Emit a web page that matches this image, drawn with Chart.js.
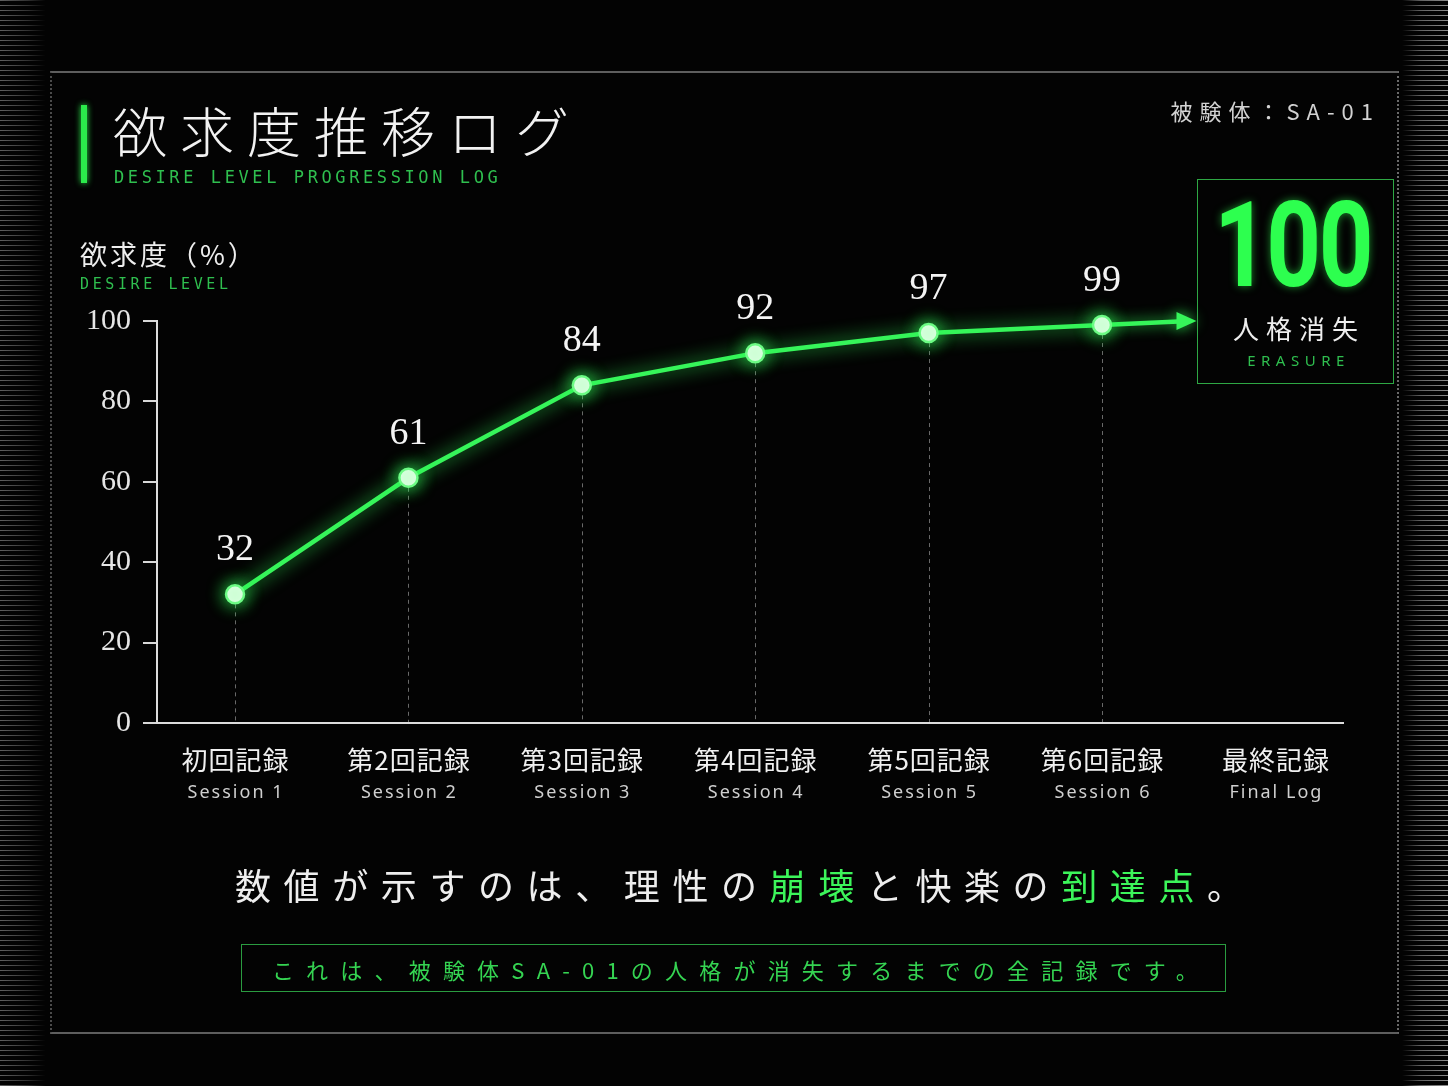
<!DOCTYPE html>
<html><head><meta charset="utf-8">
<script src="https://cdn.jsdelivr.net/npm/chart.js@4.4.1/dist/chart.umd.min.js"></script>
<style>
html,body{margin:0;padding:0;background:#000;}
#wrap{position:relative;width:1448px;height:1086px;background:#030303;overflow:hidden;}
#c{position:absolute;left:0;top:0;}
.t{position:absolute;white-space:nowrap;font-family:"Noto Sans CJK JP","Noto Sans",sans-serif;}
.mono{font-family:"DejaVu Sans Mono",monospace;}
.frame{position:absolute;left:50px;top:71px;width:1345px;height:959px;border-top:2px solid #5e5e5e;border-bottom:2px solid #5e5e5e;border-left:2px dotted #4a4a4a;border-right:2px dotted #6a6a6a;}
.scanL{position:absolute;left:0;top:0;width:46px;height:1086px;background:repeating-linear-gradient(to bottom,rgba(210,210,210,0.45) 0 1px,transparent 1px 5px);-webkit-mask-image:linear-gradient(to right,#000 0%,rgba(0,0,0,0.5) 60%,transparent 100%);}
.scanR{position:absolute;left:1402px;top:0;width:46px;height:1086px;background:repeating-linear-gradient(to bottom,rgba(230,230,230,0.6) 0 1px,transparent 1px 5px);-webkit-mask-image:linear-gradient(to left,#000 0%,rgba(0,0,0,0.7) 60%,transparent 100%);}
.g{color:#3cf55a;}
</style></head>
<body>
<div id="wrap">
<div class="scanL"></div>
<div class="scanR"></div>
<div class="frame"></div>
<canvas id="c" width="1448" height="1086"></canvas>

<div style="position:absolute;left:81px;top:105px;width:6px;height:78px;background:#2bea4b;box-shadow:0 0 6px #2bea4b;"></div>
<div class="t" style="left:113px;top:98px;height:64px;line-height:64px;font-size:54px;font-weight:300;letter-spacing:13px;color:#f2f2f2;">欲求度推移ログ</div>
<div class="t mono" style="left:114px;top:166px;height:22px;line-height:22px;font-size:17px;letter-spacing:3.6px;color:#2fbf4f;">DESIRE LEVEL PROGRESSION LOG</div>

<div class="t" style="right:68px;top:96px;height:28px;line-height:28px;font-size:22px;letter-spacing:7px;color:#d2d2d2;">被験体：SA-01</div>

<div class="t" style="left:80px;top:237px;height:34px;line-height:34px;font-size:27px;letter-spacing:3px;color:#eeeeee;">欲求度（%）</div>
<div class="t mono" style="left:80px;top:274px;height:20px;line-height:20px;font-size:15px;letter-spacing:3.6px;color:#2fbf4f;">DESIRE LEVEL</div>

<div style="position:absolute;left:1197px;top:179px;width:195px;height:203px;border:1.5px solid #2ea844;"></div>
<div class="t" style="left:1194px;width:197px;top:186px;height:120px;line-height:120px;text-align:center;font-family:Roboto,'Noto Sans',sans-serif;font-weight:700;font-size:118px;letter-spacing:-3px;color:#2dff4f;text-shadow:0 0 10px rgba(45,255,79,0.55);transform:scaleX(0.81);">100</div>
<div class="t" style="left:1197px;width:204px;top:311px;height:34px;line-height:34px;text-align:center;font-size:26px;letter-spacing:7px;color:#eeeeee;">人格消失</div>
<div class="t" style="left:1197px;width:203px;top:350px;height:20px;line-height:20px;text-align:center;font-family:'Noto Sans',sans-serif;font-size:15px;letter-spacing:5.5px;color:#2fbf4f;">ERASURE</div>

<div class="t" style="left:235px;top:862px;height:44px;line-height:44px;font-size:36px;font-weight:400;letter-spacing:12.6px;color:#eeeeee;">数値が示すのは、理性の<span class="g">崩壊</span>と快楽の<span class="g">到達点</span>。</div>

<div style="position:absolute;left:241px;top:944px;width:983px;height:46px;border:1.5px solid #2a9c40;"></div>
<div class="t" style="left:241px;width:1000px;top:953px;height:32px;line-height:32px;text-align:center;font-size:22px;letter-spacing:12.2px;color:#35d452;">これは、被験体SA-01の人格が消失するまでの全記録です。</div>
</div>

<script>
// ---- data ----
const sessionLabelsJP = ["初回記録","第2回記録","第3回記録","第4回記録","第5回記録","第6回記録","最終記録"];
const sessionLabelsEN = ["Session 1","Session 2","Session 3","Session 4","Session 5","Session 6","Final Log"];
const desireValues = [32, 61, 84, 92, 97, 99];
const finalValue = 100;
const yTicks = [0, 20, 40, 60, 80, 100];

const GREEN = '#36f55a';

const glowPlugin = {
  id: 'glow',
  beforeDatasetDraw(chart) {
    const ctx = chart.ctx;
    ctx.save();
    ctx.shadowColor = 'rgba(50,255,90,0.95)';
    ctx.shadowBlur = 18;
  },
  afterDatasetDraw(chart) { chart.ctx.restore(); }
};

const decoPlugin = {
  id: 'deco',
  beforeDatasetsDraw(chart) {
    const ctx = chart.ctx;
    const meta = chart.getDatasetMeta(0);
    const xs = chart.scales.x, ys = chart.scales.y;
    const bottom = chart.chartArea.bottom;
    // drop lines
    ctx.save();
    ctx.strokeStyle = 'rgba(190,190,190,0.55)';
    ctx.lineWidth = 1;
    ctx.setLineDash([4, 4]);
    meta.data.forEach(p => {
      ctx.beginPath();
      ctx.moveTo(Math.round(p.x) + 0.5, p.y + 10);
      ctx.lineTo(Math.round(p.x) + 0.5, bottom - 1);
      ctx.stroke();
    });
    ctx.restore();
    // arrow toward final log
    const last = meta.data[meta.data.length - 1];
    const tipX = xs.getPixelForValue(desireValues.length - 1 + 0.545);
    const tipY = ys.getPixelForValue(finalValue);
    ctx.save();
    ctx.shadowColor = 'rgba(50,255,90,0.9)';
    ctx.shadowBlur = 14;
    ctx.strokeStyle = GREEN;
    ctx.fillStyle = GREEN;
    ctx.lineWidth = 4.5;
    ctx.beginPath();
    ctx.moveTo(last.x, last.y);
    ctx.lineTo(tipX - 18, tipY + (last.y - tipY) * 0.1);
    ctx.stroke();
    ctx.beginPath();
    ctx.moveTo(tipX - 20, tipY - 9);
    ctx.lineTo(tipX, tipY);
    ctx.lineTo(tipX - 20, tipY + 9);
    ctx.closePath();
    ctx.fill();
    ctx.restore();
  },
  afterDraw(chart) {
    const ctx = chart.ctx;
    const meta = chart.getDatasetMeta(0);
    const xs = chart.scales.x;
    ctx.save();
    // value labels
    ctx.textAlign = 'center';
    ctx.textBaseline = 'middle';
    ctx.fillStyle = '#f4f4f4';
    ctx.font = '38px "Liberation Serif", "DejaVu Serif", serif';
    meta.data.forEach((p, i) => {
      ctx.fillText(String(desireValues[i]), p.x, p.y - 44);
    });
    // category labels
    sessionLabelsJP.forEach((lab, i) => {
      const x = xs.getPixelForValue(i);
      ctx.fillStyle = '#f0f0f0';
      ctx.font = '26px "Noto Sans CJK JP", sans-serif';
      try { ctx.letterSpacing = '1px'; } catch (e) {}
      ctx.fillText(lab, x + 0.5, 760);
      ctx.fillStyle = '#cfcfcf';
      ctx.font = '18px "Noto Sans", sans-serif';
      try { ctx.letterSpacing = '2px'; } catch (e) {}
      ctx.fillText(sessionLabelsEN[i], x + 1, 793);
      try { ctx.letterSpacing = '0px'; } catch (e) {}
    });
    ctx.restore();
  }
};

new Chart(document.getElementById('c'), {
  type: 'line',
  data: {
    datasets: [{
      data: desireValues.map((v, i) => ({ x: i, y: v })),
      borderColor: GREEN,
      borderWidth: 4.5,
      tension: 0,
      pointRadius: 9,
      pointBackgroundColor: '#effff0',
      pointBorderColor: '#6cfb84',
      pointBorderWidth: 2.5,
      fill: false,
      clip: false
    }]
  },
  options: {
    responsive: false,
    animation: false,
    events: [],
    layout: { padding: { left: 0, right: 105, top: 321, bottom: 263 } },
    plugins: { legend: { display: false }, tooltip: { enabled: false } },
    scales: {
      x: {
        type: 'linear',
        min: -0.45,
        max: 6.39,
        afterBuildTicks: s => { s.ticks = sessionLabelsJP.map((_, i) => ({ value: i })); },
        afterFit: s => { s.height = 100; },
        ticks: { display: false },
        grid: { display: true, drawOnChartArea: false, drawTicks: false, color: 'rgba(0,0,0,0)' },
        border: { display: true, color: '#dcdcdc', width: 2 }
      },
      y: {
        min: 0,
        max: 100,
        afterBuildTicks: s => { s.ticks = yTicks.map(v => ({ value: v })); },
        afterFit: s => { s.width = 157; },
        ticks: {
          color: '#e6e6e6',
          padding: 12,
          font: { family: '"Liberation Serif", "DejaVu Serif", serif', size: 30 }
        },
        grid: { display: true, drawOnChartArea: false, drawTicks: true, tickLength: 14, color: '#d8d8d8', lineWidth: 2 },
        border: { display: true, color: '#dcdcdc', width: 2 }
      }
    }
  },
  plugins: [glowPlugin, decoPlugin]
});
</script>
</body></html>
